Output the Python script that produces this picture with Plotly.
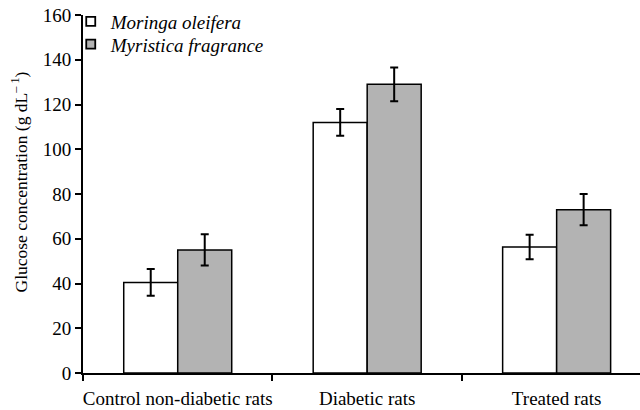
import plotly.graph_objects as go

categories = ["Control non-diabetic rats", "Diabetic rats", "Treated rats"]
series_names = ["Moringa oleifera", "Myristica fragrance"]
moringa = [40.5, 112.0, 56.3]
moringa_err = [6.0, 6.0, 5.5]
myristica = [55.0, 129.0, 73.0]
myristica_err = [7.0, 7.5, 7.0]
y_ticks = [0, 20, 40, 60, 80, 100, 120, 140, 160]
y_title = "Glucose concentration (g dL<sup>\u2012 1</sup>)"

FONT = "Liberation Serif, Times New Roman, serif"
fills = ["#ffffff", "#b3b3b3"]

fig = go.Figure()
for name, vals, errs, col in zip(series_names, [moringa, myristica], [moringa_err, myristica_err], fills):
    fig.add_trace(go.Bar(
        x=categories, y=vals, name=name, showlegend=False,
        marker=dict(color=col, line=dict(color="black", width=1.5)),
        error_y=dict(type="data", array=errs, visible=True, color="black", thickness=2, width=4),
    ))
# legend entries (one legend box per entry for tight spacing)
for i, (name, col) in enumerate(zip(series_names, fills)):
    fig.add_trace(go.Scatter(
        x=[None], y=[None], mode="markers", name=name,
        legend="legend" if i == 0 else "legend2",
        marker=dict(symbol="square", size=9, color=col, line=dict(color="black", width=1.8)),
    ))

leg_common = dict(xanchor="left", yanchor="middle",
                  font=dict(family=FONT, size=19, style="italic"),
                  bgcolor="rgba(0,0,0,0)", itemwidth=30)

fig.update_layout(
    width=640, height=410,
    margin=dict(l=83, r=0, t=15, b=37),
    paper_bgcolor="white", plot_bgcolor="white",
    barmode="group", bargap=0.43, bargroupgap=0,
    font=dict(family=FONT, size=19, color="black"),
    legend=dict(x=-0.022, y=0.982, **leg_common),
    legend2=dict(x=-0.022, y=0.918, **leg_common),
    xaxis=dict(
        type="category", range=[-0.5, 2.44], showline=True, linecolor="black", linewidth=2,
        ticks="outside", tickson="boundaries", ticklen=6, tickwidth=1.5, tickcolor="black",
        showgrid=False, zeroline=False, tickfont=dict(size=19), tickangle=0,
        ticklabelstandoff=7,
    ),
    yaxis=dict(
        range=[0, 160], tickvals=y_ticks, showline=True, linecolor="black", linewidth=2,
        ticks="outside", ticklen=6, tickwidth=1.5, tickcolor="black",
        showgrid=False, zeroline=False, tickfont=dict(size=19),
    ),
    annotations=[dict(
        text=y_title, textangle=-90, xref="paper", yref="paper",
        x=-0.114, y=0.5335, xanchor="center", yanchor="middle",
        showarrow=False, font=dict(family=FONT, size=17.5),
    )],
)

fig.write_html("out.html")
